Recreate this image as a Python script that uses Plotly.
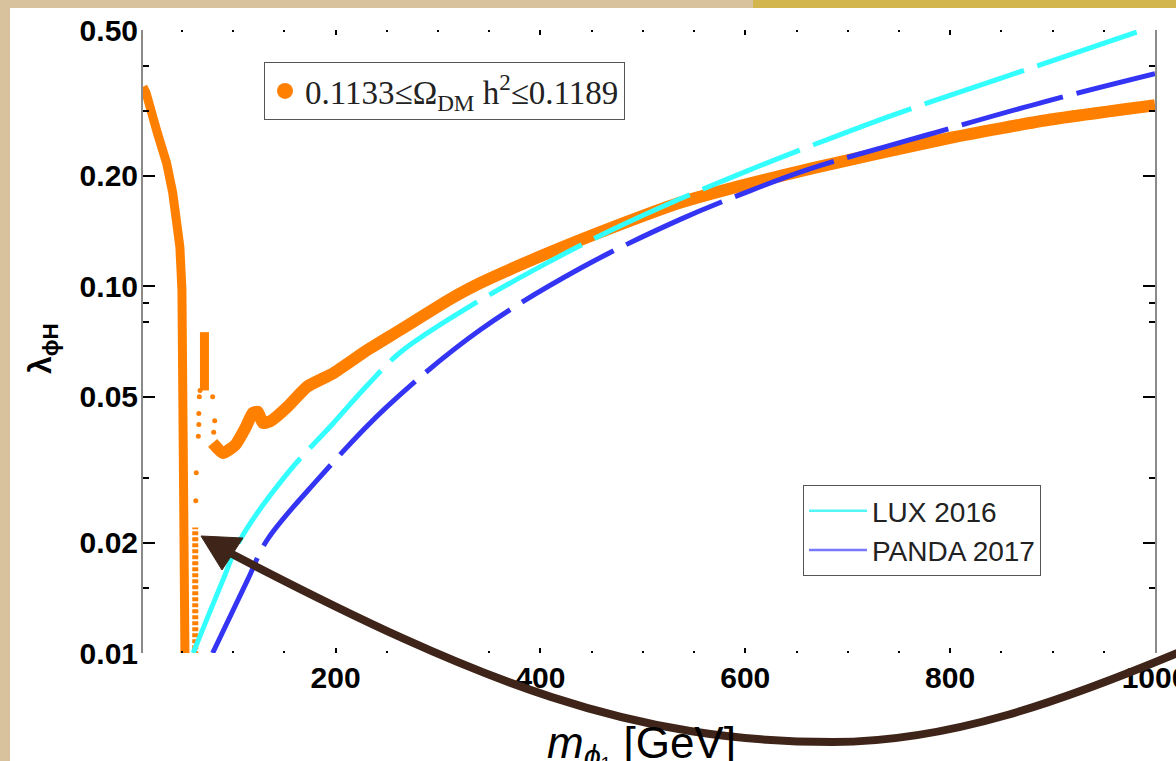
import plotly.graph_objects as go

# ---------------- data ----------------
# relic-density band, descending branch below the Higgs resonance
orange_desc_m = [12, 15, 26, 35, 41, 46, 48, 50, 51, 52, 53]
orange_desc_l = [0.35, 0.337, 0.262, 0.217, 0.180, 0.145, 0.128, 0.098, 0.05, 0.02, 0.0095]
# dense column near the resonance
orange_col2_m = [63, 63]
orange_col2_l = [0.0095, 0.022]
# spike above the resonance
orange_spike_m = [72, 72]
orange_spike_l = [0.052, 0.075]
# scattered points in the resonance region
orange_dots_m = [67.7, 67, 66.5, 66.5, 66, 64, 63.5, 80, 82, 81]
orange_dots_l = [0.052, 0.050, 0.045, 0.042, 0.039, 0.031, 0.026, 0.050, 0.043, 0.040]
# main branch
orange_m = [80, 90, 102, 112, 119, 124, 129, 136, 153, 172, 198, 231, 263, 311, 341, 407, 471,
            536, 602, 666, 800, 898, 1000]
orange_l = [0.0374, 0.0351, 0.0369, 0.0411, 0.0451, 0.0455, 0.0424, 0.0428, 0.0469, 0.0532, 0.058,
            0.067, 0.076, 0.092, 0.102, 0.123, 0.145, 0.169, 0.190, 0.210, 0.254, 0.285, 0.312]

lux_m = [61, 90, 107, 153, 198, 231, 263, 325, 407, 471, 536, 602, 666, 742, 852, 989]
lux_l = [0.0100, 0.0158, 0.0204, 0.0309, 0.0424, 0.0537, 0.066, 0.0861, 0.116, 0.143, 0.173,
         0.2065, 0.2427, 0.2917, 0.3715, 0.501]

panda_m = [80, 114, 133, 182, 250, 341, 439, 536, 602, 663, 778, 891, 1000]
panda_l = [0.0100, 0.0158, 0.0203, 0.0296, 0.0469, 0.076, 0.112, 0.152, 0.181, 0.209, 0.259,
           0.318, 0.38]

y_ticks = [0.01, 0.02, 0.05, 0.1, 0.2, 0.5]
y_ticktext = ["0.01", "0.02", "0.05", "0.10", "0.20", "0.50"]
y_minor = [0.015, 0.03, 0.08, 0.09, 0.3, 0.4]
x_ticks = [200, 400, 600, 800, 1000]
x_minor = [50, 100, 150, 250, 300, 350, 450, 500, 550, 650, 700, 750, 850, 900, 950]

legend_band = "0.1133≤Ω<sub>DM</sub> h<sup>2</sup>≤0.1189"
legend_lux = "LUX 2016"
legend_panda = "PANDA 2017"

# ---------------- styling ----------------
ORANGE = "#FF8000"
CYAN = "#33FFFF"
BLUE = "#3434F4"
ARROW = "#3E2419"
W, H = 1176, 761
L, R, T, B = 143, 21, 30, 108
PW, PH = W - L - R, H - T - B


def P(px, py):
    return (px - L) / PW, (H - B - py) / PH


fig = go.Figure()

fig.add_trace(go.Scatter(x=orange_desc_m, y=orange_desc_l, mode="lines",
                         line=dict(color=ORANGE, width=9), showlegend=False))
fig.add_trace(go.Scatter(x=orange_col2_m, y=orange_col2_l, mode="lines",
                         line=dict(color=ORANGE, width=6, dash="4px,2px"), showlegend=False))
fig.add_trace(go.Scatter(x=orange_spike_m, y=orange_spike_l, mode="lines",
                         line=dict(color=ORANGE, width=9), showlegend=False))
fig.add_trace(go.Scatter(x=orange_dots_m, y=orange_dots_l, mode="markers",
                         marker=dict(color=ORANGE, size=5), showlegend=False))
fig.add_trace(go.Scatter(x=orange_m, y=orange_l, mode="lines",
                         line=dict(color=ORANGE, width=12, shape="spline", smoothing=0.5),
                         showlegend=False))

fig.add_trace(go.Scatter(x=lux_m, y=lux_l, mode="lines", line_shape="spline",
                         line=dict(color=CYAN, width=5, dash="105px,14px"), showlegend=False))
fig.add_trace(go.Scatter(x=panda_m, y=panda_l, mode="lines", line_shape="spline",
                         line=dict(color=BLUE, width=5, dash="105px,14px"), showlegend=False))

# legend entries
fig.add_trace(go.Scatter(x=[None], y=[None], mode="markers", name=legend_band,
                         marker=dict(color=ORANGE, size=16), legend="legend"))
fig.add_trace(go.Scatter(x=[None], y=[None], mode="lines", name=legend_lux,
                         line=dict(color="#55F5F5", width=2.5), legend="legend2",
                         legendgroup="a"))
fig.add_trace(go.Scatter(x=[None], y=[None], mode="lines", name=legend_panda,
                         line=dict(color="#7878FF", width=2.5), legend="legend2",
                         legendgroup="b"))

tickfont = dict(family="Liberation Sans", size=30, color="black", weight="bold")

fig.update_xaxes(range=[12, 1000], showgrid=False, zeroline=False, showline=False,
                 automargin=False,
                 mirror="ticks", ticks="inside", ticklen=5, tickwidth=2, tickcolor="black",
                 tickvals=x_ticks, tickfont=tickfont, ticklabeloverflow="allow",
                 ticklabelstandoff=4,
                 minor=dict(tickvals=x_minor, ticks="inside", ticklen=2, tickwidth=2,
                            tickcolor="black", showgrid=False))
fig.update_yaxes(type="log", range=[-2, -0.30103], showgrid=False, zeroline=False,
                 automargin=False,
                 showline=True, linecolor="#8a8a8a", linewidth=2, mirror="ticks",
                 ticks="inside", ticklen=12, tickwidth=2, tickcolor="black",
                 tickvals=y_ticks, ticktext=y_ticktext, tickfont=tickfont,
                 ticklabelstandoff=-3,
                 minor=dict(tickvals=y_minor, ticks="inside", ticklen=6, tickwidth=2,
                            tickcolor="black", showgrid=False))

shapes = []
x0, y0 = P(10, 761)
x1, y1 = P(1176, 8)
shapes.append(dict(type="rect", xref="paper", yref="paper", x0=x0, y0=y0, x1=x1, y1=y1,
                   fillcolor="white", line=dict(width=0), layer="below"))
gx0, gy0 = P(753, 8)
gx1, gy1 = P(1176, 0)
shapes.append(dict(type="rect", xref="paper", yref="paper", x0=gx0, y0=gy0, x1=gx1, y1=gy1,
                   fillcolor="#D3B54E", line=dict(width=0), layer="above"))


def pt(px, py):
    a, b = P(px, py)
    return f"{a:.5f},{b:.5f}"


shaft = (f"M{pt(232,554)} C{pt(483,685)} {pt(633,742)} {pt(833,742)} "
         f"C{pt(950,742)} {pt(1065,700)} {pt(1180,652)}")
shapes.append(dict(type="path", xref="paper", yref="paper", path=shaft,
                   line=dict(color=ARROW, width=8), fillcolor="rgba(0,0,0,0)", layer="above"))
head = f"M{pt(201,536)} L{pt(243,538)} L{pt(222,570)} Z"
shapes.append(dict(type="path", xref="paper", yref="paper", path=head,
                   line=dict(color=ARROW, width=1), fillcolor=ARROW, layer="above"))

lx, ly = P(264, 62)
l2x, l2y = P(803, 485)
tx, ty = P(641, 746)
yx, yy = P(42, 349)

fig.update_layout(
    width=W, height=H, autosize=False,
    margin=dict(l=L, r=R, t=T, b=B, pad=0, autoexpand=False),
    paper_bgcolor="#D8C29E", plot_bgcolor="white",
    shapes=shapes,
    legend=dict(x=lx, y=ly, xanchor="left", yanchor="top", bgcolor="white",
                bordercolor="#555555", borderwidth=1,
                font=dict(family="Liberation Serif", size=33, color="#222222")),
    legend2=dict(x=l2x, y=l2y, xanchor="left", yanchor="top", bgcolor="white",
                 bordercolor="#555555", borderwidth=1, tracegroupgap=0,
                 traceorder="grouped", itemwidth=58,
                 font=dict(family="Liberation Sans", size=28, color="#222222")),
    annotations=[
        dict(xref="paper", yref="paper", x=tx, y=ty, xanchor="center", yanchor="middle",
             showarrow=False,
             text="<i>m</i><sub><i>ϕ</i>₁</sub> [GeV]",
             font=dict(family="Liberation Sans", size=44, color="black")),
        dict(xref="paper", yref="paper", x=yx, y=yy, xanchor="center", yanchor="middle",
             showarrow=False, textangle=-90,
             text="<b>λ<sub>ϕH</sub></b>",
             font=dict(family="Liberation Sans", size=32, color="black")),
    ],
)

post = """
var gd = document.getElementById('{plot_id}');
document.documentElement.style.overflow = 'hidden';
document.body.style.overflow = 'hidden';
document.body.style.margin = '0';
gd.style.overflow = 'hidden';
gd.querySelectorAll('.svg-container').forEach(function(e){ e.style.overflow = 'hidden'; });
"""

fig.write_html("out.html", post_script=post)
